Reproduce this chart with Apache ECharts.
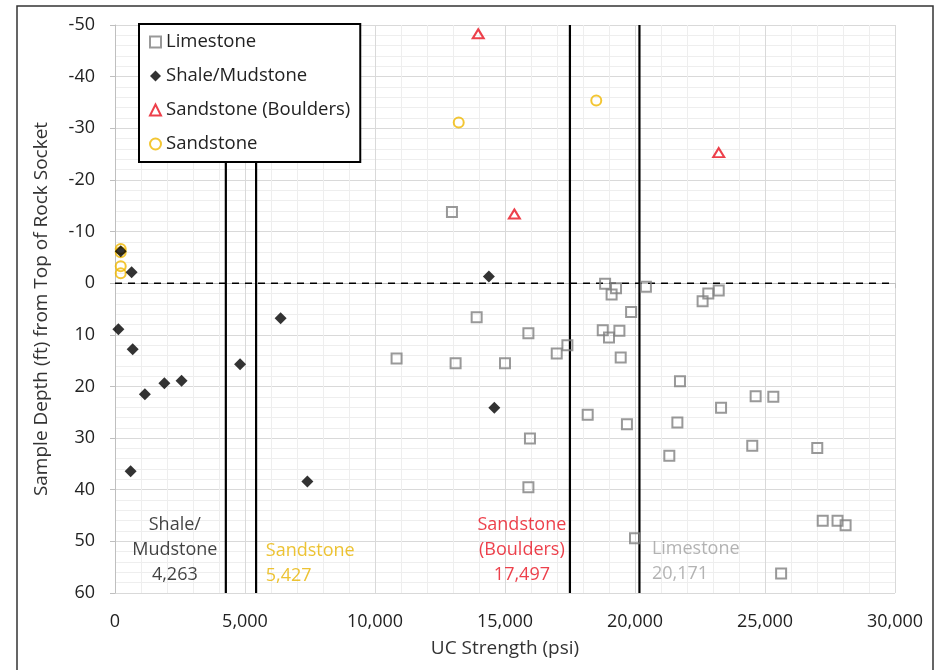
<!DOCTYPE html>
<html><head><meta charset="utf-8">
<script src="https://cdn.jsdelivr.net/npm/echarts@6/dist/echarts.min.js"></script>
<style>html,body{margin:0;padding:0;background:#fff}#c{width:947px;height:670px}</style>
</head><body><div id="c"></div>
<script>
// ---- data ----
const limestone = [
  [12960,-13.8],[13910,6.6],[10830,14.6],[13100,15.5],[15000,15.5],[15900,9.7],
  [16990,13.6],[17400,12.0],[15960,30.1],[18180,25.5],[15900,39.5],[19690,27.3],
  [18850,0.1],[19270,1.0],[19100,2.2],[20420,0.7],[19850,5.6],[18760,9.1],
  [19400,9.2],[19000,10.5],[19450,14.4],[22600,3.5],[22820,2.0],[23220,1.4],
  [21730,19.0],[24640,21.9],[25320,22.0],[23310,24.1],[21630,27.0],[24510,31.5],
  [27010,31.9],[21320,33.4],[27220,46.0],[27790,46.0],[28100,46.9],[20000,49.4],
  [25620,56.2]
];
const shale = [
  [130,8.9],[680,12.8],[1150,21.5],[1900,19.4],[2560,18.9],[600,36.4],
  [4810,15.7],[6370,6.8],[7400,38.4],[640,-2.1],[220,-6.2],[14380,-1.3],[14590,24.1]
];
const boulders = [[13970,-48.3],[15360,-13.4],[23220,-25.3]];
const sandstone = [[13220,-31.1],[18510,-35.4],[220,-6.6],[220,-6.0],[220,-3.3],[220,-1.9]];
const thresholdNames = ['Shale/\nMudstone\n4,263','Sandstone\n5,427','Sandstone\n(Boulders)\n17,497','Limestone\n20,171'];
const thresholdValues = [4263, 5427, 17497, 20171];
const labelAnchors = [[2300,51.7],[5800,54.2],[15650,51.7],[20650,53.8]];
const seriesNames = ['Limestone','Shale/Mudstone','Sandstone (Boulders)','Sandstone'];
const xTicks = {min:0, max:30000, interval:5000};
const yTicks = {min:-50, max:60, interval:10};

// ---- style ----
const FONT = 'Open Sans';
const colLime = '#808080', colShale = '#000000', colBoul = '#e8101e', colSand = '#f0b800';
const labelColors = ['#111111', '#e8b400', '#e8101e', '#a0a0a0'];
const labelAlign = ['center','left','center','left'];

const chart = echarts.init(document.getElementById('c'), null, {renderer:'canvas'});

const thresholdSeries = thresholdValues.map((v,i) => ({
  type:'line', name:'th'+i, data:[[v, yTicks.min],[v, yTicks.max]],
  showSymbol:false, symbol:'none', silent:true, z:1,
  lineStyle:{color:'#000', width:2.2}
}));

const labelSeries = {
  type:'scatter', name:'labels', symbolSize:0, silent:true, z:1,
  data: labelAnchors.map((p,i) => ({
    value:p,
    label:{show:true, position:'inside', formatter:thresholdNames[i], color:labelColors[i],
      fontFamily:FONT, fontSize:18, lineHeight:25, align:labelAlign[i]}
  }))
};

chart.setOption({
  animation:false,
  textStyle:{fontFamily:FONT},
  grid:{left:115, right:52, top:25, bottom:77, containLabel:false},
  legend:{
    data: seriesNames.map(n=>({name:n})),
    orient:'vertical', left:139, top:24,
    backgroundColor:'#fff', borderColor:'#000', borderWidth:2,
    padding:[8,10,8,10], itemWidth:11, itemHeight:11, itemGap:14,
    textStyle:{fontFamily:FONT, fontSize:18.5, color:'#222', lineHeight:20},
    z:10
  },
  xAxis:{
    type:'value', min:xTicks.min, max:xTicks.max, interval:xTicks.interval,
    name:'UC Strength (psi)', nameLocation:'middle', nameGap:46,
    nameTextStyle:{fontFamily:FONT, fontSize:19, color:'#333'},
    axisLine:{show:true, lineStyle:{color:'#bfbfbf', width:1}},
    axisTick:{show:true, length:5, lineStyle:{color:'#bfbfbf'}},
    axisLabel:{margin:20, fontFamily:FONT, fontSize:18, color:'#222',
      formatter:v=>v.toLocaleString('en-US')},
    splitLine:{show:true, lineStyle:{color:'#d9d9d9', width:1}},
    minorTick:{show:false, splitNumber:5},
    minorSplitLine:{show:true, lineStyle:{color:'#eeeeee', width:1}}
  },
  yAxis:{
    type:'value', inverse:true, min:yTicks.min, max:yTicks.max, interval:yTicks.interval,
    name:'Sample Depth (ft) from Top of Rock Socket', nameLocation:'middle', nameGap:64,
    nameRotate:90,
    nameTextStyle:{fontFamily:FONT, fontSize:19, color:'#333'},
    axisLine:{show:true, lineStyle:{color:'#bfbfbf', width:1}},
    axisTick:{show:true, length:5, lineStyle:{color:'#bfbfbf'}},
    axisLabel:{margin:20, fontFamily:FONT, fontSize:18, color:'#222'},
    splitLine:{show:true, lineStyle:{color:'#d9d9d9', width:1}},
    minorTick:{show:false, splitNumber:5},
    minorSplitLine:{show:true, lineStyle:{color:'#eeeeee', width:1}}
  },
  graphic:[{
    type:'rect', shape:{x:17, y:6, width:916, height:700}, silent:true, z:-1,
    style:{fill:'none', stroke:'#333', lineWidth:1.5}
  }],
  series:[
    ...thresholdSeries,
    {
      type:'line', name:'zero', data:[[xTicks.min,0],[xTicks.max,0]], symbol:'none', silent:true, z:1,
      lineStyle:{color:'#000', width:1.6, type:[7,6]}
    },
    labelSeries,
    {type:'scatter', name:seriesNames[0], data:limestone, symbol:'rect', symbolSize:10, z:3,
      itemStyle:{color:'rgba(255,255,255,0)', borderColor:colLime, borderWidth:2}},
    {type:'scatter', name:seriesNames[1], data:shale, symbol:'diamond', symbolSize:[12,12], z:4,
      itemStyle:{color:colShale}},
    {type:'scatter', name:seriesNames[2], data:boulders, symbol:'triangle', symbolSize:[11,9], z:3,
      itemStyle:{color:'rgba(255,255,255,0)', borderColor:colBoul, borderWidth:2}},
    {type:'scatter', name:seriesNames[3], data:sandstone, symbol:'circle', symbolSize:10, z:3,
      itemStyle:{color:'rgba(255,255,255,0)', borderColor:colSand, borderWidth:2}}
  ]
});
</script></body></html>
